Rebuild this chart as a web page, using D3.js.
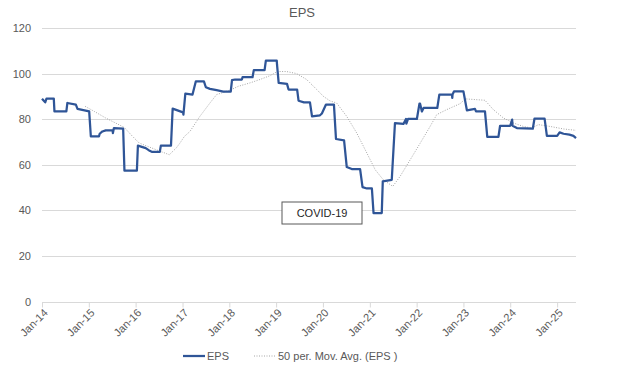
<!DOCTYPE html>
<html>
<head>
<meta charset="utf-8">
<script src="https://cdn.jsdelivr.net/npm/d3@7"></script>
<style>
  body { margin: 0; background: #fff; }
  svg { font-family: "Liberation Sans", Arial, sans-serif; }
  .grid line { stroke: #d9d9d9; }
  .axis text { fill: #595959; font-size: 11px; }
</style>
</head>
<body>
<svg width="628" height="376"></svg>
<script>
// EPS readings (step changes), date + value
var epsDates = ['2014-01-01','2014-01-26','2014-02-05','2014-04-03','2014-04-08','2014-07-10','2014-07-18','2014-09-22','2014-10-05','2015-01-04',
  '2015-01-17','2015-03-21','2015-03-27','2015-04-17','2015-05-13','2015-07-06','2015-07-08','2015-07-16','2015-09-26','2015-10-06',
  '2016-01-11','2016-01-19','2016-03-20','2016-04-15','2016-05-06','2016-07-08','2016-07-16','2016-10-03','2016-10-16','2017-01-05',
  '2017-01-08','2017-01-23','2017-03-20','2017-04-15','2017-06-17','2017-07-02','2017-08-03','2017-09-24','2017-11-15','2018-01-12',
  '2018-01-22','2018-02-15','2018-04-09','2018-04-14','2018-07-01','2018-07-11','2018-10-03','2018-10-13','2019-01-06','2019-01-08',
  '2019-01-21','2019-03-27','2019-04-08','2019-06-14','2019-06-25','2019-08-06','2019-09-22','2019-10-08','2019-12-09','2019-12-24',
  '2020-01-25','2020-03-27','2020-04-12','2020-06-14','2020-07-05','2020-08-13','2020-10-17','2020-11-05','2020-12-09',
  '2021-01-17','2021-01-30','2021-04-04','2021-04-12','2021-06-21','2021-07-16','2021-09-20','2021-10-10','2021-10-13','2021-10-26',
  '2022-01-03','2022-01-23','2022-01-28','2022-02-11','2022-02-24','2022-06-11','2022-06-27','2022-10-04','2022-10-06','2022-10-08',
  '2022-10-20','2023-01-01','2023-01-28','2023-04-01','2023-04-09','2023-06-18','2023-07-06','2023-10-01','2023-10-14','2024-01-01',
  '2024-01-16','2024-01-19','2024-02-22','2024-06-25','2024-07-08','2024-09-25','2024-10-13','2025-01-01','2025-01-20','2025-02-20',
  '2025-04-07','2025-05-08','2025-05-28'];
var epsValues = [89.0,87.4,89.0,89.0,83.4,83.4,87.1,86.4,84.5,83.4,
  72.4,72.4,73.6,74.6,75.1,75.1,73.9,76.1,75.8,57.4,
  57.4,68.4,67.3,66.3,65.7,65.7,68.4,68.4,84.6,83.0,
  82.0,91.2,90.8,96.6,96.6,94.0,93.3,92.7,92.1,92.1,
  97.1,97.4,97.4,98.4,98.4,101.5,101.5,105.7,105.7,104.0,
  95.9,95.5,93.0,93.0,88.1,87.4,87.4,81.2,81.7,82.5,
  86.4,86.4,71.3,70.7,59.0,58.1,58.1,50.2,49.6,
  49.6,38.8,38.8,52.7,53.4,78.3,77.9,80.1,78.0,80.1,
  80.1,86.8,86.8,83.4,84.9,84.9,90.8,90.8,89.3,90.8,
  92.2,92.2,83.9,84.5,83.4,83.4,72.2,72.2,77.1,77.1,
  79.8,77.1,76.1,75.8,80.2,80.2,72.7,72.7,74.2,73.6,
  73.2,72.7,71.7];

// 50 per. moving average
var maDates = ['2014-12-04','2015-02-13','2015-05-13','2015-10-04','2015-12-09','2016-01-30','2016-04-16','2016-07-16','2016-09-20','2016-11-12',
  '2016-12-12','2017-01-15','2017-02-28','2017-05-16','2017-08-03','2017-09-24','2018-01-07','2018-03-11','2018-06-11','2018-08-28',
  '2018-11-15','2019-01-11','2019-03-23','2019-06-10','2019-08-27','2019-11-14','2020-01-05','2020-02-26','2020-04-17','2020-07-05',
  '2020-09-21','2020-12-09','2021-02-12','2021-04-16','2021-06-29','2021-08-25','2021-11-12','2022-01-29','2022-04-16','2022-06-07',
  '2022-08-24','2022-12-06','2023-01-15','2023-06-18','2023-08-22','2023-11-09','2024-01-27','2024-04-13','2024-06-17','2024-08-08',
  '2024-11-08','2025-02-20','2025-05-28'];
var maValues = [85.6,83.4,80.5,76.4,72.4,69.5,67.8,65.8,64.4,67.3,
  69.5,72.4,74.6,81.2,87.1,90.8,92.7,94.4,95.9,97.4,
  99.1,100.9,100.9,100.0,97.4,93.0,90.0,88.0,87.1,81.2,
  73.9,65.1,57.8,53.4,50.5,54.9,62.2,69.5,76.8,82.0,
  84.2,86.8,88.9,88.3,84.2,80.5,78.3,76.8,76.1,77.6,
  76.8,75.7,75.1];

var yTicks = [0, 20, 40, 60, 80, 100, 120];
var seriesNames = ['EPS', '50 per. Mov. Avg. (EPS )'];
var noteText = 'COVID-19';

var parse = d3.timeParse('%Y-%m-%d');
var eps = epsDates.map((d, i) => ({ date: parse(d), value: epsValues[i] }));
var ma = maDates.map((d, i) => ({ date: parse(d), value: maValues[i] }));

var svg = d3.select('svg');
var plotLeft = 42, plotRight = 576, plotTop = 28, plotBottom = 301.5;

var x = d3.scaleTime()
          .domain([parse('2014-01-01'), parse('2025-05-28')])
          .range([plotLeft, plotRight]);
var y = d3.scaleLinear()
          .domain([0, 120])
          .range([plotBottom, plotTop]);

// gridlines
svg.append('g')
  .attr('class', 'grid')
  .selectAll('line')
  .data(yTicks.slice(1))
  .enter()
  .append('line')
    .attr('x1', plotLeft)
    .attr('x2', plotRight)
    .attr('y1', d => Math.round(y(d)) + 0.5)
    .attr('y2', d => Math.round(y(d)) + 0.5);

// y axis labels
svg.append('g')
  .attr('class', 'axis')
  .selectAll('text')
  .data(yTicks)
  .enter()
  .append('text')
    .attr('x', 31)
    .attr('y', d => y(d) + 4)
    .attr('text-anchor', 'end')
    .text(d => d);

// x axis
var xAxis = d3.axisBottom(x)
              .ticks(d3.timeYear.every(1))
              .tickFormat(d3.timeFormat('%b-%y'))
              .tickSizeOuter(0)
              .tickSize(5);

var gx = svg.append('g')
  .attr('class', 'axis')
  .attr('transform', 'translate(0,' + (Math.round(plotBottom) + 0.5) + ')')
  .call(xAxis);
gx.select('.domain').attr('stroke', '#d9d9d9').attr('d', 'M' + plotLeft + ',0H' + plotRight);
gx.selectAll('.tick line').attr('stroke', '#d9d9d9');
gx.selectAll('.tick text')
  .attr('font-family', '"Liberation Sans", Arial, sans-serif')
  .attr('font-size', 11)
  .attr('fill', '#595959')
  .attr('text-anchor', 'end')
  .attr('x', 0)
  .attr('y', 0)
  .attr('dy', 0)
  .attr('transform', 'translate(6,11) rotate(-45)');

// moving average
var line = d3.line()
             .x(d => x(d.date))
             .y(d => y(d.value));

svg.append('path')
  .datum(ma)
  .attr('d', line)
  .attr('fill', 'none')
  .attr('stroke', '#a6a6a6')
  .attr('stroke-width', 1)
  .attr('stroke-dasharray', '1,1.5');

// EPS
svg.append('path')
  .datum(eps)
  .attr('d', line)
  .attr('fill', 'none')
  .attr('stroke', '#2f5597')
  .attr('stroke-width', 2.25)
  .attr('stroke-linejoin', 'round');

// title
svg.append('text')
  .attr('x', 302)
  .attr('y', 17)
  .attr('text-anchor', 'middle')
  .attr('font-size', 13)
  .attr('fill', '#595959')
  .text('EPS');

// annotation box
var note = svg.append('g').attr('transform', 'translate(282,202)');
note.append('rect')
  .attr('width', 80)
  .attr('height', 22)
  .attr('fill', '#fff')
  .attr('stroke', '#595959')
  .attr('stroke-width', 1);
note.append('text')
  .attr('x', 40)
  .attr('y', 15)
  .attr('text-anchor', 'middle')
  .attr('font-size', 11)
  .attr('fill', '#262626')
  .text(noteText);

// legend
var legend = svg.append('g').attr('transform', 'translate(0,356)');
legend.append('line')
  .attr('x1', 183).attr('x2', 205).attr('y1', 0).attr('y2', 0)
  .attr('stroke', '#2f5597').attr('stroke-width', 2.25);
legend.append('text')
  .attr('x', 207).attr('y', 4)
  .attr('font-size', 11).attr('fill', '#595959')
  .text(seriesNames[0]);
legend.append('line')
  .attr('x1', 254).attr('x2', 276).attr('y1', 0).attr('y2', 0)
  .attr('stroke', '#a6a6a6').attr('stroke-width', 1)
  .attr('stroke-dasharray', '1,1.5');
legend.append('text')
  .attr('x', 278).attr('y', 4)
  .attr('font-size', 11).attr('fill', '#595959')
  .text(seriesNames[1]);
</script>
</body>
</html>
